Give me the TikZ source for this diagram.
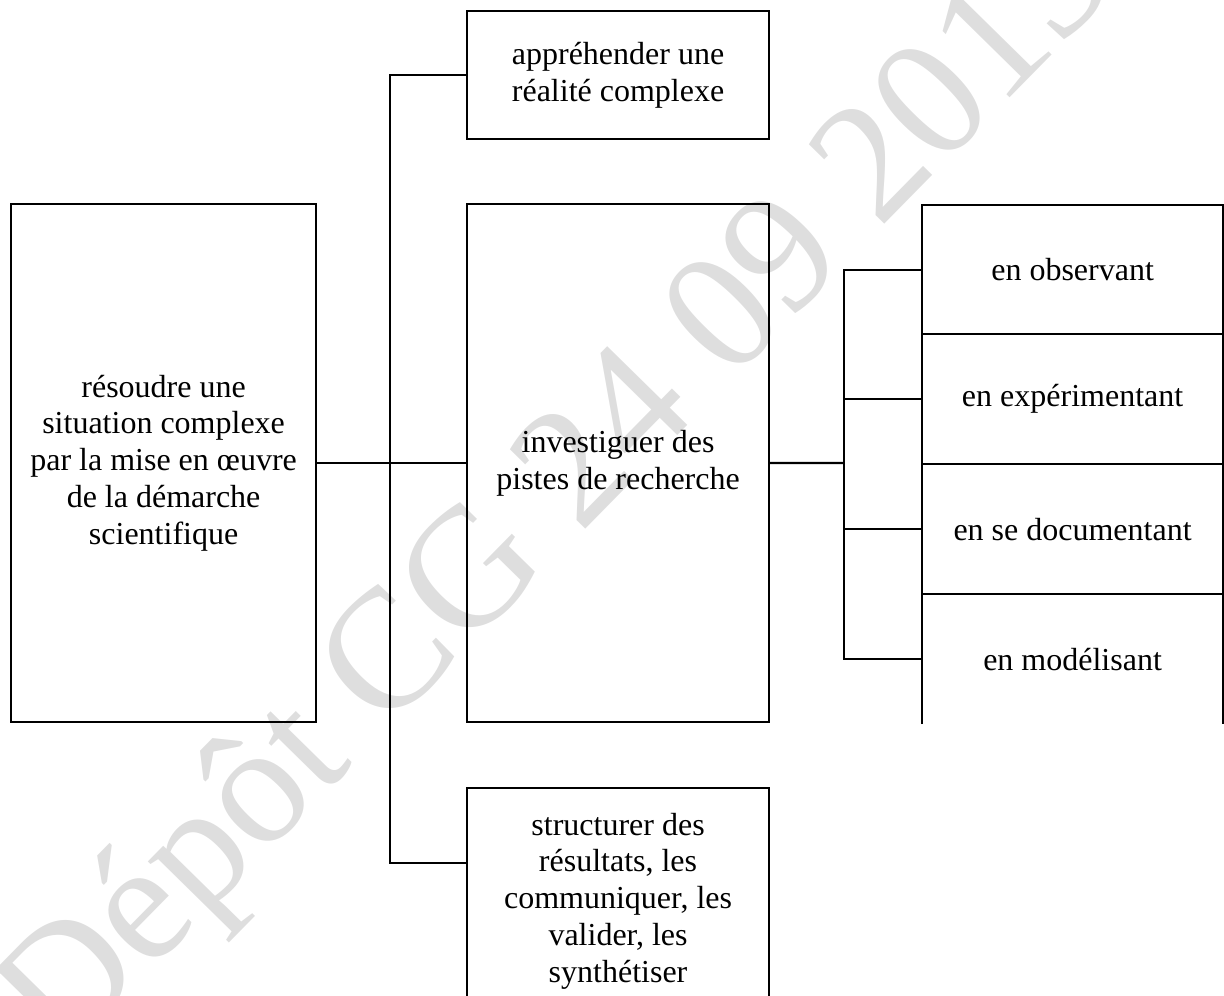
\documentclass[tikz,border=0pt]{standalone}
\usepackage{fontspec}
\setmainfont{Liberation Serif}
\newfontfamily\wmfont{Liberation Serif}
\begin{document}
\begin{tikzpicture}[x=0.375pt,y=-0.375pt,
  every node/.style={font=\fontsize{12pt}{13.8pt}\selectfont},
  box/.style={draw, line width=0.8pt, align=center, inner sep=0pt, anchor=north west},
  openbox/.style={draw=none, align=center, inner sep=0pt, outer sep=0pt, anchor=north west},
  link/.style={line width=0.8pt},
  wm/.style={text=black!13, font=\wmfont\fontsize{64pt}{70pt}\selectfont, inner sep=0pt, anchor=base west, rotate=45.5}]
\useasboundingbox (0,0) rectangle (1224,996);
\clip (0,0) rectangle (1224,996);
% watermark
\node[wm] (wmark) at (62,1062) {Dépôt CG 24 09 2013};
% boxes
\node[box, minimum width=114.4pt, minimum height=194.25pt] (left) at (10,203)
  {résoudre une\\situation complexe\\par la mise en œuvre\\de la démarche\\scientifique};
\node[box, minimum width=113.25pt, minimum height=48pt] (top) at (466,10)
  {appréhender une\\réalité complexe};
\node[box, minimum width=113.25pt, minimum height=194.25pt] (mid) at (466,203)
  {investiguer des\\pistes de recherche};
\node[box, minimum width=113.25pt, minimum height=84.75pt] (bot) at (466,787)
  {structurer des\\résultats, les\\communiquer, les\\valider, les\\synthétiser};
\node[box, minimum width=112.9pt, minimum height=48.4pt] (obs) at (921,204) {en observant};
\node[box, minimum width=112.9pt, minimum height=48.75pt] (exp) at (921,333) {en expérimentant};
\node[box, minimum width=112.9pt, minimum height=48.75pt] (doc) at (921,463) {en se documentant};
\node[openbox, minimum width=112.9pt, minimum height=48.75pt] (mod) at ([shift={(0.4pt,-0.4pt)}]921,593) {en modélisant};
\draw[link] (mod.south west) -- (mod.north west) -- (mod.north east) -- (mod.south east);
% connectors, left side
\coordinate (b1) at (390,463);
\coordinate (botin) at (466,863);
\draw[link] (left.east) -- (mid.west);
\draw[link] (top.west) -| (b1) |- (botin);
% connectors, right side
\coordinate (b2) at (844,463);
\draw[link] (mid.east) -- (b2);
\draw[link] (obs.west) -| (b2) |- (mod.west);
\draw[link] (exp.west) -- (exp.west -| b2);
\draw[link] (doc.west) -- (doc.west -| b2);
\end{tikzpicture}
\end{document}
